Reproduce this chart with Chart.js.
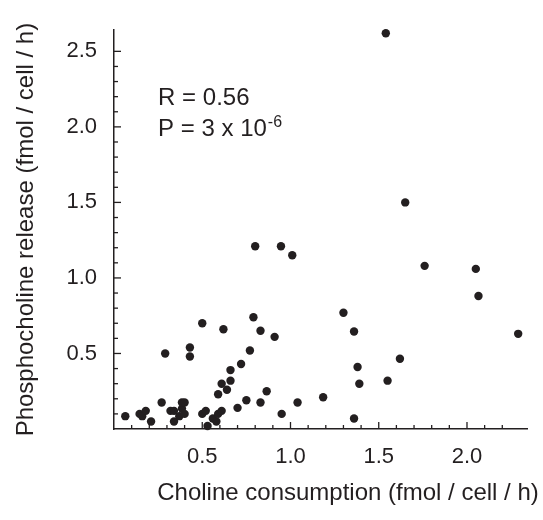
<!DOCTYPE html>
<html>
<head>
<meta charset="utf-8">
<script src="https://cdn.jsdelivr.net/npm/chart.js@4"></script>
<style>
  html, body { margin: 0; padding: 0; background: #fff; }
  #grafico { display: block; }
</style>
</head>
<body>
<canvas id="grafico" width="543" height="520"></canvas>
<script>
// Dados (x = consumo de colina, y = liberação de fosfocolina)
const consumoColina = [0.064, 0.145, 0.16, 0.18, 0.21, 0.27, 0.29, 0.32, 0.34, 0.34,
    0.37, 0.385, 0.385, 0.40, 0.40, 0.43, 0.43, 0.50, 0.50, 0.52,
    0.53, 0.56, 0.58, 0.59, 0.61, 0.59, 0.61, 0.64, 0.66, 0.66,
    0.62, 0.70, 0.72, 0.75, 0.77, 0.79, 0.83, 0.83, 0.865, 0.91,
    0.95, 1.04, 1.185, 1.30, 1.36, 1.36, 1.38, 1.39, 1.55, 1.62,
    2.065, 0.80, 0.946, 1.01, 1.65, 1.76, 2.05, 1.54, 2.29];
const liberacaoFosfocolina = [0.085, 0.10, 0.085, 0.12, 0.05, 0.175, 0.50, 0.12, 0.12, 0.05,
    0.085, 0.135, 0.175, 0.175, 0.10, 0.54, 0.48, 0.70, 0.10, 0.12,
    0.02, 0.07, 0.05, 0.10, 0.12, 0.23, 0.30, 0.26, 0.32, 0.39,
    0.66, 0.14, 0.43, 0.19, 0.52, 0.74, 0.175, 0.65, 0.25, 0.61,
    0.10, 0.175, 0.21, 0.77, 0.645, 0.07, 0.41, 0.30, 0.32, 0.465,
    0.88, 1.21, 1.21, 1.15, 1.50, 1.08, 1.06, 2.62, 0.63];
const rotulosX = ['0.5', '1.0', '1.5', '2.0'];
const rotulosY = ['0.5', '1.0', '1.5', '2.0', '2.5'];
const tituloX = 'Choline consumption (fmol / cell / h)';
const tituloY = 'Phosphocholine release (fmol / cell / h)';
const textoR = 'R = 0.56';
const textoP = 'P = 3 x 10';
const expoenteP = '-6';

const corTexto = '#231f20';
const fonte = '"Liberation Sans", Arial, sans-serif';

const pontos = consumoColina.map((x, i) => ({ x: x, y: liberacaoFosfocolina[i] }));

// Marcas de escala voltadas para dentro, título do eixo x e texto R / P
const marcasInternas = {
    id: 'marcasInternas',
    afterDraw(chart) {
        const ctx = chart.ctx;
        const escX = chart.scales.x;
        const escY = chart.scales.y;
        ctx.save();
        ctx.strokeStyle = corTexto;
        ctx.lineWidth = 1.3;
        escX.ticks.forEach(t => {
            const v = Math.round(t.value * 10);
            if (v <= 0 || Math.abs(t.value * 10 - v) > 1e-6) return;
            const px = escX.getPixelForValue(t.value);
            const tam = v % 5 === 0 ? 7 : 4;
            ctx.beginPath();
            ctx.moveTo(px, escX.top);
            ctx.lineTo(px, escX.top - tam);
            ctx.stroke();
        });
        escY.ticks.forEach(t => {
            const v = Math.round(t.value * 10);
            if (v <= 0 || Math.abs(t.value * 10 - v) > 1e-6) return;
            const py = escY.getPixelForValue(t.value);
            const tam = v % 5 === 0 ? 7 : 4;
            ctx.beginPath();
            ctx.moveTo(escY.right, py);
            ctx.lineTo(escY.right + tam, py);
            ctx.stroke();
        });

        ctx.fillStyle = corTexto;
        ctx.textBaseline = 'alphabetic';

        // título do eixo x (um pouco deslocado para a direita, como no original)
        ctx.textAlign = 'center';
        ctx.font = '24px ' + fonte;
        ctx.fillText(tituloX, 348, 500);

        ctx.textAlign = 'left';
        const tx = escX.getPixelForValue(0.25);
        ctx.fillText(textoR, tx, escY.getPixelForValue(2.145));
        const yP = escY.getPixelForValue(1.94);
        ctx.fillText(textoP, tx, yP);
        const largura = ctx.measureText(textoP).width;
        ctx.font = '16px ' + fonte;
        ctx.fillText(expoenteP, tx + largura + 1, yP - 9);
        ctx.restore();
    }
};

const grafico = new Chart(document.getElementById('grafico'), {
    type: 'scatter',
    data: {
        datasets: [{
            data: pontos,
            backgroundColor: corTexto,
            borderWidth: 0,
            pointRadius: 4.2,
            pointHoverRadius: 4.2,
            clip: false
        }]
    },
    options: {
        responsive: false,
        animation: false,
        events: [],
        layout: { padding: { top: 18, right: 16, left: 0, bottom: 0 } },
        plugins: {
            legend: { display: false },
            tooltip: { enabled: false }
        },
        scales: {
            x: {
                type: 'linear',
                min: 0,
                max: 2.34,
                grid: { display: false, drawTicks: false },
                border: { display: true, color: corTexto, width: 1.5 },
                ticks: {
                    stepSize: 0.1,
                    autoSkip: false,
                    maxRotation: 0,
                    padding: 15,
                    color: corTexto,
                    font: { family: fonte, size: 22 },
                    callback: v => {
                        const s = v.toFixed(1);
                        return rotulosX.includes(s) && Math.abs(v - parseFloat(s)) < 1e-6 ? s : '';
                    }
                },
                title: { display: false },
                afterFit: esc => { esc.height = 91; }
            },
            y: {
                type: 'linear',
                min: 0,
                max: 2.64,
                grid: { display: false, drawTicks: false },
                border: { display: true, color: corTexto, width: 1.5 },
                ticks: {
                    stepSize: 0.1,
                    autoSkip: false,
                    padding: 17,
                    color: corTexto,
                    font: { family: fonte, size: 22 },
                    callback: v => {
                        const s = v.toFixed(1);
                        return rotulosY.includes(s) && Math.abs(v - parseFloat(s)) < 1e-6 ? s : '';
                    }
                },
                title: {
                    display: true,
                    text: tituloY,
                    color: corTexto,
                    font: { family: fonte, size: 24 },
                    padding: { top: 11.5, bottom: 0 }
                },
                afterFit: esc => { esc.width = 114; }
            }
        }
    },
    plugins: [marcasInternas]
});
</script>
</body>
</html>
